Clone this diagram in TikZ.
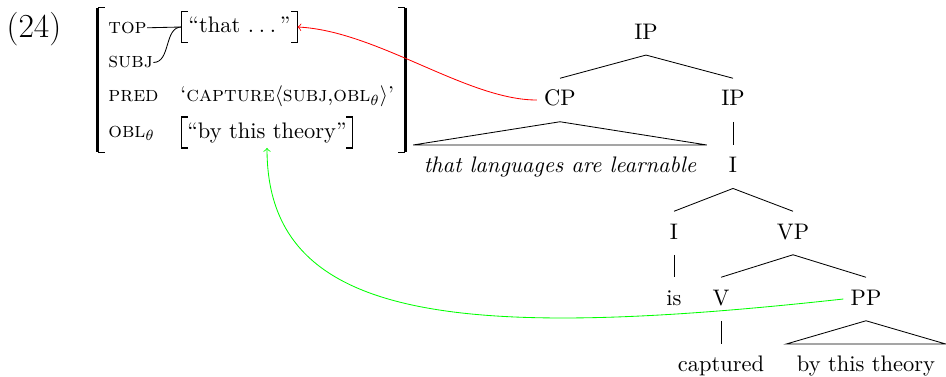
\documentclass[tikz,border=0pt]{standalone}
\usepackage{amsmath}
\usepackage{amssymb}
\usepackage{tikz}

\tikzset{
  tnode/.style={anchor=base, inner ysep=5.7pt, text height=7.3pt, text depth=1.6pt},
  leaf/.style={tnode, inner xsep=4.8pt},
  feat/.style={anchor=base west, inner sep=0pt, font=\fontsize{10.2}{12}\selectfont},
  inbox/.style={inner xsep=2.5pt, inner ysep=0pt, text height=7.3pt, text depth=2pt, minimum height=14.3pt},
  avmbox/.style={inner sep=0pt, minimum width=146.2pt, minimum height=68.6pt},
  brk/.style={line width=0.6pt},
}
\newcommand{\spdots}{.\kern2.3pt.\kern2.3pt.\kern1.8pt}

\begin{document}
\begin{tikzpicture}[x=0.476pt, y=-0.476pt, font=\fontsize{10.7}{13}\selectfont]
  \useasboundingbox (0,0) rectangle (946,377);
  \node[anchor=base, font=\fontsize{16}{19}\selectfont] (ex) at (34,38) {(24)};

  % f-structure
  \node[avmbox] (avm) at (251.5,80) {};
  \node[feat] (top) at (108,33.3) {\textsc{top}};
  \node[feat] (subj) at (108,68) {\textsc{subj}};
  \node[feat] (pred) at (108,102) {\textsc{pred}};
  \node[feat] (obl) at (108,137) {\textsc{obl}$_\theta$};
  \node[inbox, minimum width=54.8pt] (that) at (239.5,27) {``that \spdots''};
  \node[feat] (predval) at (180,102) {`\textsc{capture}$\langle$\textsc{subj},\textsc{obl}$_\theta\rangle$'};
  \node[inbox, minimum width=81pt] (theory) at (267,132.5) {``by this theory''};

  \draw[line width=1.4pt] (avm.north west) -- (avm.south west);
  \draw[line width=1.4pt] (avm.north east) -- (avm.south east);
  \draw[brk] ([xshift=3.5pt]avm.north west) -- (avm.north west);
  \draw[brk] ([xshift=3.5pt]avm.south west) -- (avm.south west);
  \draw[brk] ([xshift=-3.5pt]avm.north east) -- (avm.north east);
  \draw[brk] ([xshift=-3.5pt]avm.south east) -- (avm.south east);
  \foreach \n in {that,theory} {
    \draw[brk] ([xshift=3pt]\n.north west) -- (\n.north west) -- (\n.south west) -- ([xshift=3pt]\n.south west);
    \draw[brk] ([xshift=-3pt]\n.north east) -- (\n.north east) -- (\n.south east) -- ([xshift=-3pt]\n.south east);
  }
  \draw (top.east) -- (that.west);
  \draw (subj.east) to[out=0, in=180] (that.west);

  % c-structure
  \node[tnode] (ip) at (646,39.3) {IP};
  \node[tnode] (cp) at (560,106) {CP};
  \node[tnode] (ip2) at (733,106) {IP};
  \node[leaf] (cpl) at (560,172.7) {\textit{that languages are learnable}};
  \node[tnode] (i1) at (733,172.7) {I};
  \node[tnode] (i2) at (674,239) {I};
  \node[tnode] (vp) at (793,239) {VP};
  \node[tnode] (is) at (674,305) {is};
  \node[tnode] (v) at (721,305) {V};
  \node[tnode] (pp) at (866,305) {PP};
  \node[leaf] (vl) at (721,371.7) {captured};
  \node[leaf] (ppl) at (866,371.7) {by this theory};

  \draw (ip.south) -- (cp.north);
  \draw (ip.south) -- (ip2.north);
  \draw (cp.south) -- (cpl.north west) -- (cpl.north east) -- cycle;
  \draw (ip2.south) -- (i1.north);
  \draw (i1.south) -- (i2.north);
  \draw (i1.south) -- (vp.north);
  \draw (i2.south) -- (is.north);
  \draw (vp.south) -- (v.north);
  \draw (vp.south) -- (pp.north);
  \draw (v.south) -- (vl.north);
  \draw (pp.south) -- (ppl.north west) -- (ppl.north east) -- cycle;

  % correspondences
  \draw[red, ->] (cp.west) .. controls +(-70,0) and +(80,4) .. (that.east);
  \draw[green, ->] (pp.west) .. controls +(-391,43) and +(0,172) .. (theory.south);
\end{tikzpicture}
\end{document}
